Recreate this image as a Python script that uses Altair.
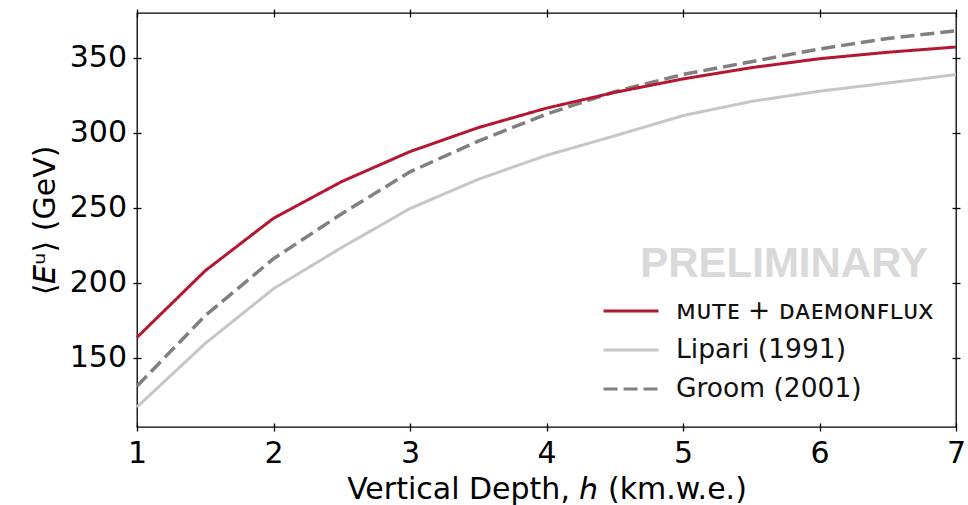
import altair as alt
import pandas as pd

# Vertical depth (km.w.e.) and mean underground muon energy (GeV) per model
depth = [1, 1.5, 2, 2.5, 3, 3.5, 4, 4.5, 5, 5.5, 6, 6.5, 7]
mute_daemonflux = [163.5, 208, 243, 267.5, 287.5, 303.5, 316.5, 327, 336, 343.5, 349.5, 353.8, 357.3]
lipari = [117, 159.5, 196, 223.5, 249.5, 269, 285, 298, 311.5, 321, 327.8, 333.3, 338.9]
groom = [131, 178, 216, 246, 274, 294.5, 312.5, 327.5, 339, 347.5, 356, 363, 368.2]

series_names = ["ᴍᴜᴛᴇ + ᴅᴀᴇᴍᴏɴꜰʟᴜx", "Lipari (1991)", "Groom (2001)"]
series_values = [mute_daemonflux, lipari, groom]
series_colors = ["#b51630", "#c6c6c6", "#808080"]
series_dashes = [[1, 0], [1, 0], [14, 6]]
series_widths = [3, 3, 3.5]

x_ticks = [1, 2, 3, 4, 5, 6, 7]
y_ticks = [150, 200, 250, 300, 350]

rows = []
for name, vals in zip(series_names, series_values):
    for d, e in zip(depth, vals):
        rows.append({"depth": d, "energy": e, "model": name})
df = pd.DataFrame(rows)

FONT = "DejaVu Sans"
x_scale = alt.Scale(domain=[1, 7], nice=False, zero=False)
y_scale = alt.Scale(domain=[103.7, 380], nice=False, zero=False)

legend = alt.Legend(
    title=None, orient="none", legendX=465, legendY=284.5, padding=0,
    symbolType="stroke", symbolSize=3025, symbolStrokeWidth=3,
    clipHeight=27, rowPadding=12, labelFont=FONT, labelFontSize=26.5,
    labelOffset=16, labelLimit=400, labelColor="#111111",
)
color = alt.Color("model:N", scale=alt.Scale(domain=series_names, range=series_colors),
                  sort=series_names, legend=legend)
dash = alt.StrokeDash("model:N", scale=alt.Scale(domain=series_names, range=series_dashes),
                      sort=series_names, legend=legend)

common_axis = dict(offset=-4, tickSize=8, tickWidth=1.3, tickColor="#000000",
                   domain=False, grid=False)

# Axes carrying labels and titles (bottom, left)
axes_main = alt.Chart(df).mark_point(opacity=0).encode(
    x=alt.X("depth:Q", scale=x_scale, axis=alt.Axis(
        orient="bottom", values=x_ticks, format="d", labelFont=FONT, labelFontSize=30,
        labelColor="#000000", labelPadding=7, labelFlush=False, labelOverlap=False,
        labelBound=False, title="Vertical Depth, 𝘩 (km.w.e.)", titleFont=FONT,
        titleFontSize=30, titleFontWeight="normal", titleColor="#000000",
        titleY=75, titleBaseline="alphabetic", **common_axis)),
    y=alt.Y("energy:Q", scale=y_scale, axis=alt.Axis(
        orient="left", values=y_ticks, labelFont=FONT, labelFontSize=30,
        labelColor="#000000", labelPadding=6.5, labelOverlap=False,
        title="⟨𝘌ᵘ⟩ (GeV)", titleFont=FONT, titleFontSize=30,
        titleFontWeight="normal", titleColor="#000000", titleX=-87, titleY=207,
        titleAngle=-90, titleAlign="center", titleBaseline="alphabetic",
        **common_axis)),
)

# Tick-only axes on the top and right edges
axes_mirror = alt.Chart(df).mark_point(opacity=0).encode(
    x=alt.X("depth:Q", scale=x_scale, axis=alt.Axis(
        orient="top", values=x_ticks, labels=False, title="", **common_axis)),
    y=alt.Y("energy:Q", scale=y_scale, axis=alt.Axis(
        orient="right", values=y_ticks, labels=False, title="", **common_axis)),
)

line_layers = []
for idx in [1, 2, 0]:
    name = series_names[idx]
    line_layers.append(
        alt.Chart(df).transform_filter(alt.datum.model == name)
        .mark_line(strokeWidth=series_widths[idx], strokeCap="butt")
        .encode(
            x=alt.X("depth:Q", scale=x_scale, axis=None),
            y=alt.Y("energy:Q", scale=y_scale, axis=None),
            color=color,
            strokeDash=dash,
        )
    )

watermark = alt.Chart(pd.DataFrame({"label": ["PRELIMINARY"]})).mark_text(
    font="Liberation Sans", fontWeight="bold", fontSize=42, color="#d9d9d9",
    align="right", baseline="alphabetic",
).encode(text="label:N", x=alt.value(791), y=alt.value(264))

chart = (
    alt.layer(axes_main, axes_mirror, watermark, *line_layers)
    .resolve_axis(x="independent", y="independent")
    .properties(
        width=819, height=414,
        autosize=alt.AutoSizeParams(type="none"),
        padding={"left": 137, "top": 13, "right": 12, "bottom": 78},
        background="white",
    )
    .configure_view(stroke="#000000", strokeWidth=1.3)
)

chart.save("out.html", embed_options={"renderer": "svg", "actions": False})
